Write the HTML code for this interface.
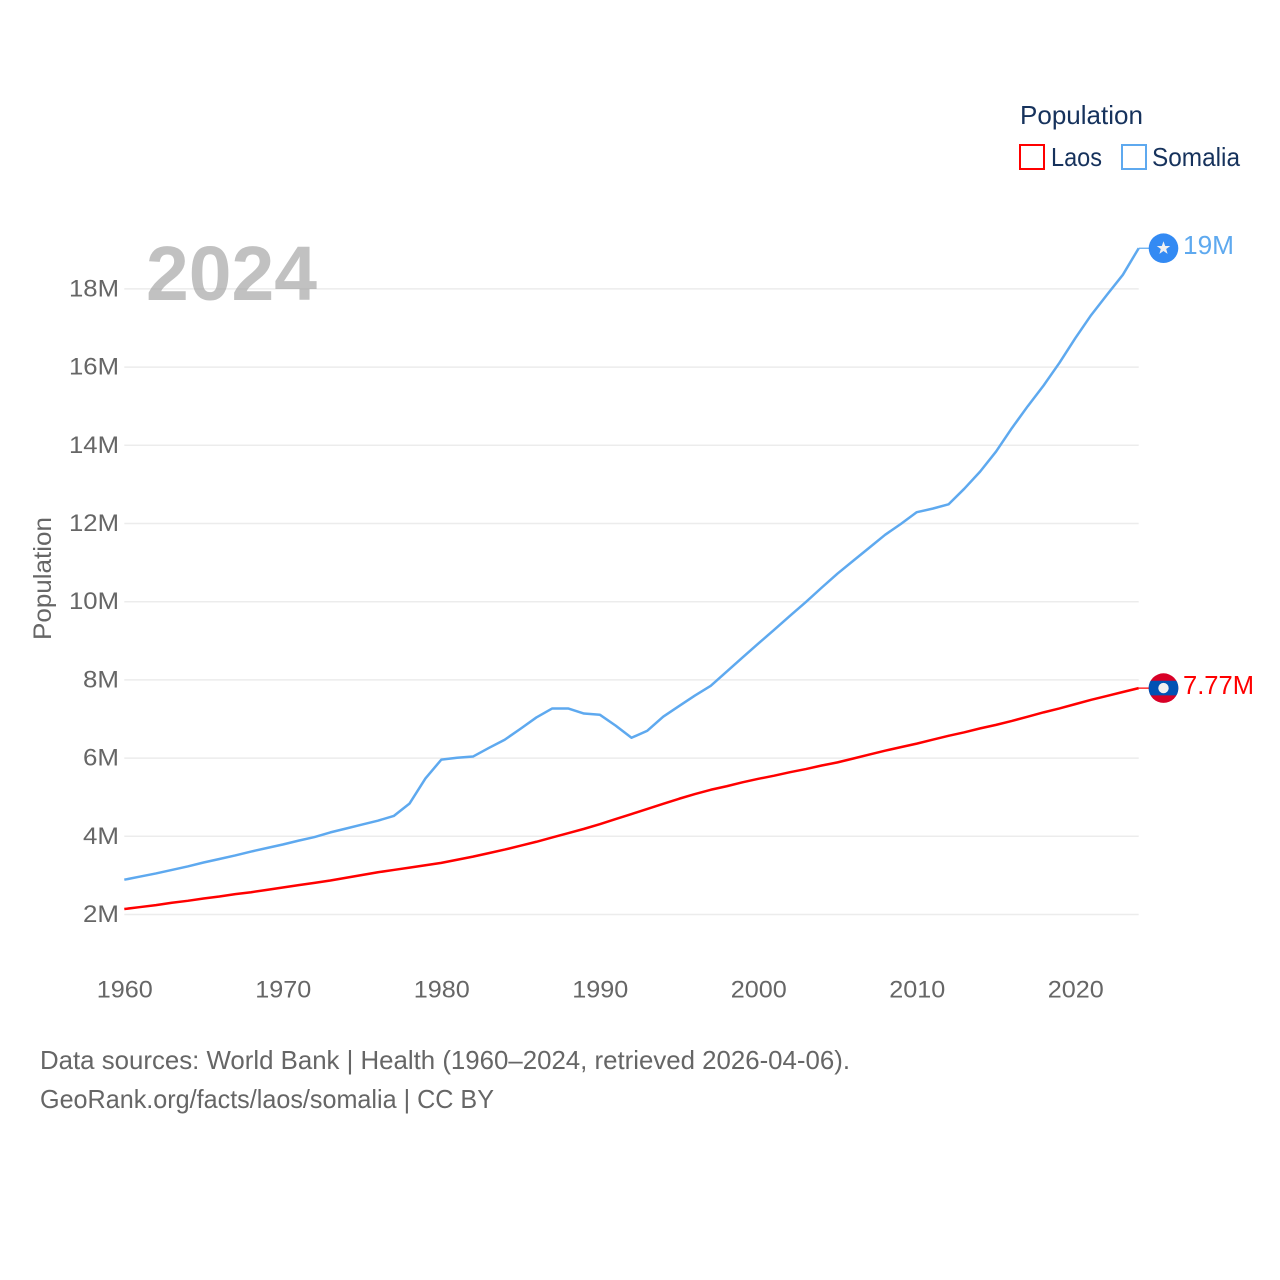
<!DOCTYPE html>
<html lang="en">
<head>
<meta charset="utf-8">
<title>Population: Laos and Somalia</title>
<style>
html,body{margin:0;padding:0;background:#fff;width:1280px;height:1280px;overflow:hidden}
svg{display:block;font-family:"Liberation Sans",sans-serif}
</style>
</head>
<body>
<svg id="chart" xmlns="http://www.w3.org/2000/svg" width="1280" height="1280" viewBox="0 0 1280 1280">
  <rect width="1280" height="1280" fill="#fff"/>
  <g id="grid"></g>
  <g id="yticks"></g>
  <g id="xticks"></g>
  <text x="146" y="300" font-size="77" font-weight="700" fill="#a0a0a0" fill-opacity="0.65" textLength="171" lengthAdjust="spacingAndGlyphs">2024</text>
  <text transform="translate(51,640) rotate(-90)" font-size="25" fill="#666" textLength="123" lengthAdjust="spacingAndGlyphs">Population</text>
  <g id="series"></g>
  <g>
    <text x="1020" y="124" font-size="26" fill="#16325c" textLength="123" lengthAdjust="spacingAndGlyphs">Population</text>
    <rect x="1020" y="145" width="24" height="24" fill="none" stroke="#ff0000" stroke-width="2"/>
    <text x="1051" y="166" font-size="26" fill="#16325c" textLength="51" lengthAdjust="spacingAndGlyphs">Laos</text>
    <rect x="1122" y="145" width="24" height="24" fill="none" stroke="#5ea9ef" stroke-width="2"/>
    <text x="1152" y="166" font-size="26" fill="#16325c" textLength="88" lengthAdjust="spacingAndGlyphs">Somalia</text>
  </g>
  <g font-size="26" fill="#666">
    <text x="40" y="1069" textLength="810" lengthAdjust="spacingAndGlyphs">Data sources: World Bank | Health (1960–2024, retrieved 2026-04-06).</text>
    <text x="40" y="1108" textLength="454" lengthAdjust="spacingAndGlyphs">GeoRank.org/facts/laos/somalia | CC BY</text>
  </g>
</svg>
<script>
const years = [1960,1961,1962,1963,1964,1965,1966,1967,1968,1969,1970,1971,1972,1973,1974,1975,1976,1977,1978,1979,1980,1981,1982,1983,1984,1985,1986,1987,1988,1989,1990,1991,1992,1993,1994,1995,1996,1997,1998,1999,2000,2001,2002,2003,2004,2005,2006,2007,2008,2009,2010,2011,2012,2013,2014,2015,2016,2017,2018,2019,2020,2021,2022,2023,2024];
const somalia = [2.89,2.97,3.05,3.14,3.23,3.33,3.42,3.51,3.61,3.70,3.79,3.89,3.98,4.10,4.20,4.30,4.40,4.52,4.84,5.48,5.96,6.01,6.04,6.26,6.47,6.75,7.04,7.27,7.27,7.14,7.11,6.83,6.52,6.70,7.06,7.33,7.60,7.85,8.21,8.57,8.93,9.28,9.64,9.99,10.36,10.72,11.05,11.38,11.71,11.99,12.29,12.38,12.49,12.89,13.33,13.84,14.44,15.00,15.53,16.11,16.74,17.33,17.85,18.36,19.04];
const laos = [2.14,2.19,2.24,2.30,2.35,2.41,2.46,2.52,2.57,2.63,2.69,2.75,2.81,2.87,2.94,3.01,3.08,3.14,3.20,3.26,3.32,3.40,3.48,3.57,3.66,3.76,3.86,3.97,4.08,4.19,4.31,4.44,4.57,4.70,4.83,4.96,5.08,5.19,5.28,5.38,5.47,5.55,5.64,5.72,5.81,5.89,5.99,6.09,6.19,6.28,6.37,6.47,6.57,6.66,6.76,6.85,6.95,7.06,7.17,7.27,7.38,7.49,7.59,7.69,7.79];
const yTickValues = [2,4,6,8,10,12,14,16,18];
const yTickLabels = ["2M","4M","6M","8M","10M","12M","14M","16M","18M"];
const xTickValues = [1960,1970,1980,1990,2000,2010,2020];
const laosLabel = "7.77M";
const somaliaLabel = "19M";

const NS = "http://www.w3.org/2000/svg";
const X = yr => 124.3 + (yr - 1960) * 15.85;
const Y = v => 914.5 - (v - 2) * 39.1;
function make(parent, tag, attrs, text) {
  const el = document.createElementNS(NS, tag);
  for (const k in attrs) el.setAttribute(k, attrs[k]);
  if (text !== undefined) el.textContent = text;
  parent.appendChild(el);
  return el;
}
const grid = document.getElementById("grid");
const yticks = document.getElementById("yticks");
const xticks = document.getElementById("xticks");
const series = document.getElementById("series");

yTickValues.forEach((v, i) => {
  const line = make(grid, "line", {x1: X(1960), x2: X(2024), y1: Y(v), y2: Y(v), stroke: "#ececec", "stroke-width": 1.5});
  
  
  const lab = yTickLabels[i];
  const t = make(yticks, "text", {x: 119, y: Y(v) + 7.5, "text-anchor": "end", "font-size": 24, fill: "#666", textLength: (lab.length - 1) * 14 + 22, lengthAdjust: "spacingAndGlyphs"}, lab);
  
  
});
xTickValues.forEach(yr => {
  const t = make(xticks, "text", {x: X(yr) + 0.5, y: 997.5, "text-anchor": "middle", "font-size": 24, fill: "#666", textLength: 56, lengthAdjust: "spacingAndGlyphs"}, String(yr));
  
  
});
function drawLine(values, color) {
  const d = values.map((v, i) => (i ? "L" : "M") + X(years[i]).toFixed(2) + " " + Y(v).toFixed(2)).join(" ");
  return make(series, "path", {d: d, fill: "none", stroke: color, "stroke-width": 2.5, "stroke-linejoin": "round"});
}
const somaliaLine = drawLine(somalia, "#5ea9ef");


const laosLine = drawLine(laos, "#ff0000");



// end-of-line flags and value labels
const cx = 1163.5;
const sy = Y(somalia[somalia.length - 1]);
const ly = Y(laos[laos.length - 1]);

const somaliaLead = make(series, "line", {x1: X(2024), x2: cx, y1: sy, y2: sy, stroke: "#5ea9ef", "stroke-width": 1.3});


const laosLead = make(series, "line", {x1: X(2024), x2: cx, y1: ly, y2: ly, stroke: "#ff0000", "stroke-width": 1.3});



const somaliaFlag = make(series, "g", {transform: "translate(" + cx + "," + sy + ")"});


make(somaliaFlag, "circle", {r: 14.8, fill: "#338af3"});
make(somaliaFlag, "polygon", {fill: "#f0f0f0", points: "0,-7 1.7,-2.2 6.7,-2.2 2.7,0.8 4.1,5.6 0,2.8 -4.1,5.6 -2.7,0.8 -6.7,-2.2 -1.7,-2.2"});
const somaliaValue = make(series, "text", {x: 1183, y: sy + 6, "font-size": 26, fill: "#5ea9ef", textLength: 51, lengthAdjust: "spacingAndGlyphs"}, somaliaLabel);



const laosFlag = make(series, "g", {transform: "translate(" + cx + "," + ly + ")"});


make(laosFlag, "circle", {r: 14.8, fill: "#d80027"});
make(laosFlag, "path", {d: "M-12.9 -7.3 H12.9 A14.8 14.8 0 0 1 12.9 7.3 H-12.9 A14.8 14.8 0 0 1 -12.9 -7.3Z", fill: "#0052b4"});
make(laosFlag, "circle", {r: 5.2, fill: "#f0f0f0"});
const laosValue = make(series, "text", {x: 1183, y: ly + 6, "font-size": 26, fill: "#ff0000", textLength: 71, lengthAdjust: "spacingAndGlyphs"}, laosLabel);


</script>
</body>
</html>
